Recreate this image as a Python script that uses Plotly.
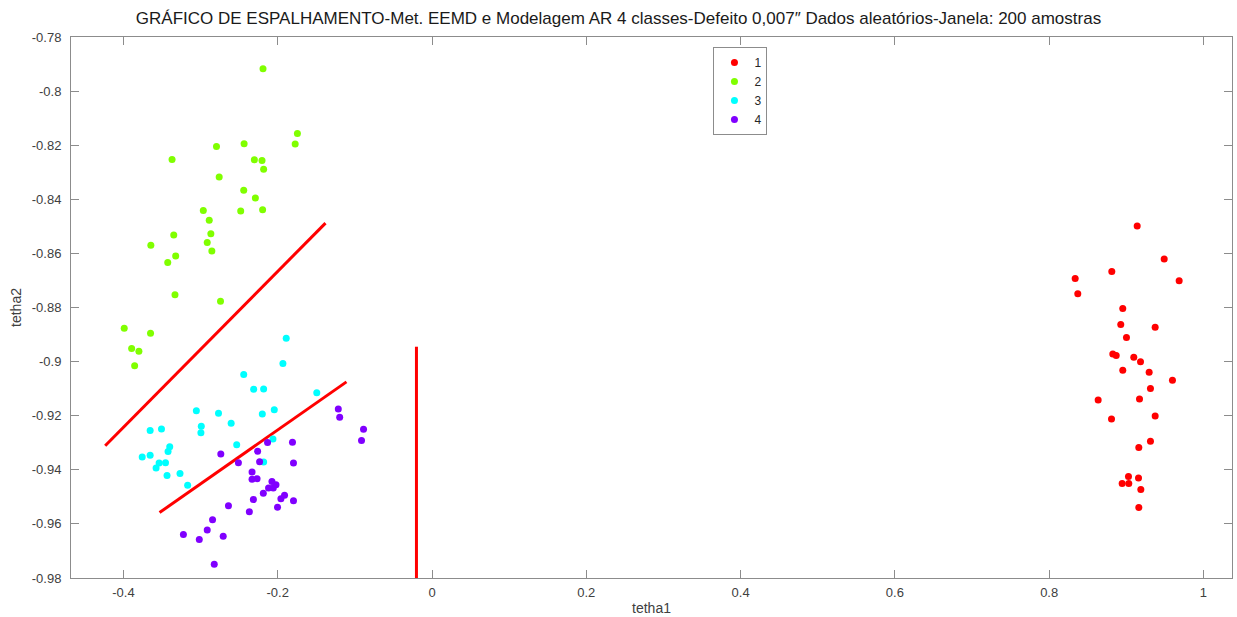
import plotly.graph_objects as go

# ---- data ----
class1_x = [0.9141, 0.9491, 0.8812, 0.8337, 0.9685, 0.8371, 0.8954, 0.8928, 0.9374, 0.9002,
            0.8825, 0.8869, 0.9097, 0.9184, 0.8954, 0.9296, 0.9598, 0.9313, 0.8635, 0.9171,
            0.8808, 0.9374, 0.9313, 0.9162, 0.9028, 0.9158, 0.8946, 0.9032, 0.9188, 0.9162]
class1_y = [-0.8499, -0.8621, -0.8667, -0.8693, -0.8701, -0.8749, -0.8804, -0.8863, -0.8873, -0.8911,
            -0.8972, -0.8977, -0.8984, -0.9001, -0.9032, -0.9039, -0.9069, -0.9099, -0.9142, -0.9138,
            -0.9212, -0.9201, -0.9294, -0.9318, -0.9425, -0.9430, -0.9451, -0.9451, -0.9473, -0.9539]

class2_x = [-0.2191, -0.1745, -0.1774, -0.2436, -0.2794, -0.3370, -0.2303, -0.2204, -0.2183, -0.2759,
            -0.2441, -0.2290, -0.2965, -0.2480, -0.2196, -0.2888, -0.3348, -0.2867, -0.3645, -0.2914,
            -0.3323, -0.3426, -0.2854, -0.3332, -0.2742, -0.3990, -0.3649, -0.3894, -0.3800, -0.3855]
class2_y = [-0.7917, -0.8157, -0.8196, -0.8195, -0.8205, -0.8253, -0.8254, -0.8257, -0.8289, -0.8318,
            -0.8367, -0.8395, -0.8441, -0.8443, -0.8439, -0.8477, -0.8532, -0.8527, -0.8570, -0.8560,
            -0.8610, -0.8634, -0.8591, -0.8753, -0.8777, -0.8877, -0.8895, -0.8952, -0.8962, -0.9015]

class3_x = [-0.1890, -0.1933, -0.2441, -0.2312, -0.2183, -0.1494, -0.3055, -0.2768, -0.2200, -0.2045,
            -0.2604, -0.2991, -0.2996, -0.3654, -0.3507, -0.2532, -0.2062, -0.3400, -0.3422, -0.3757,
            -0.3654, -0.3538, -0.3455, -0.3577, -0.3435, -0.3267, -0.3168, -0.2183]
class3_y = [-0.8914, -0.9007, -0.9048, -0.9102, -0.9101, -0.9115, -0.9182, -0.9191, -0.9194, -0.9178,
            -0.9228, -0.9239, -0.9263, -0.9255, -0.9249, -0.9307, -0.9286, -0.9315, -0.9332, -0.9353,
            -0.9346, -0.9375, -0.9374, -0.9393, -0.9421, -0.9414, -0.9457, -0.9371]

class4_x = [-0.1215, -0.1197, -0.0888, -0.0914, -0.2132, -0.1809, -0.2261, -0.2738, -0.2510, -0.2235,
            -0.1796, -0.2333, -0.2333, -0.2268, -0.2075, -0.2023, -0.2119, -0.2058, -0.2187, -0.1912,
            -0.1959, -0.2316, -0.1796, -0.2639, -0.2003, -0.2368, -0.2845, -0.2914, -0.3223, -0.2707,
            -0.3017, -0.2823]
class4_y = [-0.9175, -0.9206, -0.9250, -0.9292, -0.9299, -0.9298, -0.9331, -0.9342, -0.9374, -0.9370,
            -0.9375, -0.9408, -0.9435, -0.9433, -0.9443, -0.9455, -0.9467, -0.9467, -0.9487, -0.9494,
            -0.9507, -0.9510, -0.9514, -0.9533, -0.9538, -0.9555, -0.9585, -0.9623, -0.9639, -0.9646,
            -0.9658, -0.9749]

# decision boundaries (red lines)
line1_x = [-0.4237, -0.1381]
line1_y = [-0.9311, -0.8488]
line2_x = [-0.3532, -0.1109]
line2_y = [-0.9558, -0.9075]
line3_x = [-0.0202, -0.0202]
line3_y = [-0.8945, -0.98]

names = ["1", "2", "3", "4"]
colors = ["#ff0000", "#80ff00", "#00ffff", "#8000ff"]
xs = [class1_x, class2_x, class3_x, class4_x]
ys = [class1_y, class2_y, class3_y, class4_y]

x_ticks = [-0.4, -0.2, 0, 0.2, 0.4, 0.6, 0.8, 1]
x_ticktext = ["-0.4", "-0.2", "0", "0.2", "0.4", "0.6", "0.8", "1"]
y_ticks = [-0.98, -0.96, -0.94, -0.92, -0.9, -0.88, -0.86, -0.84, -0.82, -0.8, -0.78]
y_ticktext = ["-0.98", "-0.96", "-0.94", "-0.92", "-0.9", "-0.88", "-0.86",
              "-0.84", "-0.82", "-0.8", "-0.78"]

title_text = ("GRÁFICO DE ESPALHAMENTO-Met. EEMD e Modelagem AR 4 classes-Defeito 0,007\u2033 "
              "Dados aleatórios-Janela: 200 amostras")

FONT = "Liberation Sans, Arial, Helvetica, sans-serif"

fig = go.Figure()
for lx, ly in [(line1_x, line1_y), (line2_x, line2_y), (line3_x, line3_y)]:
    fig.add_trace(go.Scatter(x=lx, y=ly, mode="lines", line=dict(color="#ff0000", width=3),
                             showlegend=False, hoverinfo="skip"))
for n, c, x, y in zip(names, colors, xs, ys):
    fig.add_trace(go.Scatter(x=x, y=y, mode="markers", name=n,
                             marker=dict(color=c, size=7, line=dict(width=0))))

axis_common = dict(showgrid=False, zeroline=False, showline=True, linecolor="#8c8c8c",
                   linewidth=1, mirror="ticks", ticks="inside", ticklen=8, tickcolor="#8c8c8c",
                   tickfont=dict(family=FONT, size=13, color="#404040"))

fig.update_layout(
    width=1237, height=617,
    paper_bgcolor="white", plot_bgcolor="white",
    margin=dict(l=71, r=4, t=37, b=37),
    font=dict(family=FONT, color="#262626"),
    title=dict(text=title_text, x=0.5, xref="container", xanchor="center",
               y=1 - 18 / 617, yref="container", yanchor="middle",
               font=dict(family=FONT, size=17, color="#1a1a1a")),
    xaxis=dict(range=[-0.468, 1.037], tickvals=x_ticks, ticktext=x_ticktext,
               ticklabelstandoff=2,
               title=dict(text="tetha1", font=dict(family=FONT, size=14, color="#404040"), standoff=4),
               **axis_common),
    yaxis=dict(range=[-0.98, -0.78], tickvals=y_ticks, ticktext=y_ticktext,
               ticklabelstandoff=6,
               title=dict(text="tetha2", font=dict(family=FONT, size=14, color="#404040"), standoff=6),
               **axis_common),
    legend=dict(x=(714 - 71) / 1162, y=(580 - 47) / 543, xanchor="left", yanchor="top",
                bgcolor="white", bordercolor="#8c8c8c", borderwidth=1,
                font=dict(family=FONT, size=12, color="#262626"), itemwidth=30),
    showlegend=True,
)

fig.write_html("out.html")
